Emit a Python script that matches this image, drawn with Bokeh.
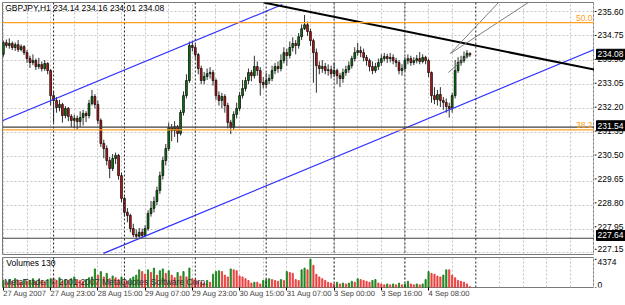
from bokeh.plotting import figure
from bokeh.models import (ColumnDataSource, FixedTicker, Span, Label, Range1d)
from bokeh.layouts import column, row
from bokeh.embed import file_html
from bokeh.resources import INLINE
from bokeh.core.properties import value

# ---------------- data ----------------
title_text = "GBPJPY,H1  234.14 234.16 234.01 234.08"
first_open = 234.10
closes = [234.51, 234.41, 234.48, 234.34, 234.44, 234.27, 234.37, 234.16, 233.95, 233.81,
          233.88, 233.67, 233.74, 233.60, 233.78, 233.53, 232.65, 232.48, 232.23, 232.34,
          231.95, 232.20, 231.92, 231.78, 231.85, 231.74, 231.88, 232.02, 231.95, 232.37,
          232.62, 232.34, 231.78, 230.97, 230.79, 230.37, 230.09, 230.44, 230.55, 229.84,
          229.04, 228.55, 228.44, 227.98, 227.77, 227.71, 227.85, 227.74, 227.98, 228.51,
          228.69, 228.93, 229.32, 229.84, 230.37, 230.79, 231.53, 231.42, 231.56, 231.32,
          232.06, 232.65, 233.18, 234.41, 234.34, 234.09, 233.60, 233.18, 233.32, 233.42,
          233.46, 233.18, 232.65, 232.48, 232.62, 232.30, 231.71, 231.53, 231.99, 232.20,
          232.65, 232.90, 233.18, 233.46, 233.35, 233.67, 233.53, 233.11, 233.04, 233.18,
          233.25, 233.53, 233.67, 233.60, 233.88, 234.16, 234.06, 234.34, 234.48, 234.41,
          234.72, 235.00, 235.14, 234.90, 234.58, 234.16, 233.70, 233.60, 233.67, 233.53,
          233.56, 233.42, 233.53, 233.35, 233.25, 233.46, 233.56, 233.70, 233.95, 234.16,
          234.23, 234.16, 233.99, 233.88, 233.67, 233.53, 233.67, 233.81, 233.95, 234.02,
          233.95, 233.99, 233.88, 233.81, 233.53, 233.60, 233.88, 233.95, 233.81, 233.88,
          233.95, 233.85, 233.99, 233.88, 233.46, 232.65, 232.51, 232.69, 232.48, 232.41,
          232.27, 232.20, 232.65, 233.53, 233.81, 233.88, 234.02, 234.14, 234.08]
highs = [234.58, 234.62, 234.66, 234.55, 234.52, 234.60, 234.45, 234.42, 234.25, 234.05,
         234.10, 233.95, 233.98, 233.85, 233.90, 233.82, 233.58, 232.80, 232.60, 232.50,
         232.40, 232.28, 232.25, 232.00, 231.98, 231.95, 232.10, 232.15, 232.10, 232.50,
         232.85, 232.70, 232.48, 231.85, 231.10, 230.90, 230.50, 230.60, 230.65, 230.60,
         229.95, 229.10, 228.70, 228.50, 228.15, 227.95, 228.00, 227.98, 228.10, 228.62,
         228.95, 229.10, 229.45, 229.98, 230.50, 230.95, 231.70, 231.65, 231.75, 231.62,
         232.15, 232.80, 233.40, 234.55, 234.58, 234.45, 234.15, 233.70, 233.48, 233.60,
         233.65, 233.55, 233.25, 232.80, 232.75, 232.70, 232.40, 231.80, 232.10, 232.40,
         232.78, 233.20, 233.30, 233.60, 233.55, 234.05, 233.85, 233.65, 233.30, 233.45,
         233.40, 233.70, 233.80, 233.85, 234.10, 234.35, 234.30, 234.55, 234.70, 234.60,
         234.85, 235.15, 235.48, 235.25, 235.00, 234.65, 234.30, 233.85, 233.90, 233.80,
         233.75, 233.70, 233.80, 233.60, 233.45, 233.60, 233.70, 233.85, 234.05, 234.35,
         234.50, 234.38, 234.30, 234.08, 233.95, 233.85, 233.80, 233.95, 234.10, 234.15,
         234.12, 234.15, 234.10, 233.98, 233.90, 233.75, 234.00, 234.10, 234.05, 234.00,
         234.08, 234.18, 234.10, 234.05, 233.95, 233.50, 232.95, 232.85, 232.95, 232.60,
         232.55, 232.40, 232.75, 233.90, 234.00, 234.05, 234.20, 234.25, 234.16]
lows = [234.02, 234.33, 234.30, 234.25, 234.22, 234.18, 234.20, 234.08, 233.80, 233.62,
        233.72, 233.55, 233.58, 233.50, 233.52, 233.40, 232.30, 231.70, 232.05, 232.10,
        231.70, 231.85, 231.75, 231.55, 231.50, 231.45, 231.55, 231.60, 231.72, 231.85,
        232.30, 232.20, 231.65, 230.85, 230.45, 230.20, 229.75, 230.00, 230.25, 229.70,
        228.90, 228.40, 228.20, 227.85, 227.68, 227.64, 227.66, 227.68, 227.70, 227.90,
        228.40, 228.55, 228.80, 229.20, 229.70, 230.20, 230.70, 231.05, 231.20, 231.00,
        231.25, 231.95, 232.55, 233.10, 234.20, 233.95, 233.40, 233.05, 233.05, 233.20,
        233.25, 233.00, 232.50, 232.30, 232.20, 232.05, 231.50, 231.30, 231.45, 231.85,
        232.10, 232.55, 232.80, 233.05, 233.15, 233.25, 233.35, 232.65, 232.90, 232.95,
        233.05, 233.15, 233.40, 233.45, 233.50, 233.78, 233.70, 233.95, 234.20, 234.10,
        234.30, 234.60, 234.95, 234.75, 234.40, 233.10, 232.75, 233.40, 233.45, 233.40,
        233.35, 233.25, 233.30, 233.05, 232.95, 233.10, 233.35, 233.45, 233.60, 233.85,
        234.05, 234.00, 233.85, 233.70, 233.50, 233.40, 233.45, 233.55, 233.70, 233.85,
        233.80, 233.82, 233.75, 233.65, 233.40, 233.35, 233.50, 233.75, 233.70, 233.72,
        233.78, 233.75, 233.78, 233.75, 233.30, 232.40, 232.35, 232.30, 232.25, 232.15,
        232.05, 231.88, 232.05, 232.55, 233.45, 233.70, 233.80, 233.95, 234.01]
volumes = [1100, 820, 1230, 960, 1370, 1100, 820, 1230, 960, 1100,
           1370, 960, 1230, 1100, 820, 1230, 1370, 1230, 1100, 1510,
           960, 1230, 1100, 1370, 1640, 1230, 1100, 960, 1230, 1510,
           1640, 2880, 1920, 2470, 1640, 2190, 1370, 1780, 1510, 1230,
           1640, 1100, 960, 1370, 1640, 1920, 2740, 2470, 2060, 2740,
           2330, 3010, 1920, 2600, 2880, 2190, 2600, 1920, 1510, 2330,
           1780, 2470, 1640, 3010, 1370, 1230, 960, 820, 690, 1100,
           820, 2060, 2470, 2600, 2470, 1920, 1640, 2880, 2740, 2600,
           1780, 1640, 1370, 1100, 690, 820, 820, 550, 1100, 1230,
           1370, 1230, 1100, 960, 1230, 1100, 2470, 2330, 2190, 1230,
           1100, 2740, 3010, 2740, 4374, 3430, 2060, 1640, 1370, 1100,
           820, 690, 550, 820, 550, 690, 550, 690, 960, 820,
           1370, 1230, 1100, 960, 820, 1100, 1230, 690, 550, 410,
           550, 410, 550, 410, 690, 410, 550, 960, 550, 410,
           550, 410, 550, 1230, 2470, 2190, 2060, 1780, 1640, 1920,
           2740, 2740, 1920, 1510, 1100, 960, 820, 550, 130]

price_ticks = [235.60, 234.75, 233.90, 233.05, 232.20, 231.35, 230.50, 229.65, 228.80, 227.95, 227.15]
time_ticks = [0, 16, 32, 48, 64, 80, 96, 112, 128, 144]
time_labels = ["27 Aug 2007", "27 Aug 23:00", "28 Aug 15:00", "29 Aug 07:00", "29 Aug 23:00",
               "30 Aug 15:00", "31 Aug 07:00", "3 Sep 00:00", "3 Sep 16:00", "4 Sep 08:00"]
grid_bars = [0, 8, 16, 24, 32, 40, 48, 56, 64, 72, 80, 88, 96, 104, 112, 120, 128, 136,
             144, 152, 168, 176, 184, 192, 200]
day_separators = [17, 41, 65, 89, 112, 136, 160]
volume_ticks = [4374, 0]

level_lines = [231.54, 227.64]           # horizontal lines (black)
fibo_levels = [235.21, 231.45]           # fibonacci levels (orange)
fibo_names = ["50.0", "38.2"]
price_boxes = [234.08, 231.54, 227.64]   # marked prices on the scale

channel_upper = ([-0.98, 94.5], [231.74, 235.85])
channel_lower = ([33.9, 200.2], [227.11, 234.27])
resistance = ([88.1, 200.2], [235.92, 233.56])
fan_a = ([151.4, 167.7], [234.13, 235.92])
fan_b = ([151.4, 177.8], [234.13, 235.92])
fan_c = ([150.7, 158.1], [233.46, 234.13])

# ---------------- styling ----------------
FONT = "Liberation Sans"
FS = "8.5px"
GREEN = "#0b7a0b"
RED = "#c41616"
PX_PER_PRICE = 252 / (235.92 - 227.07)

n = len(closes)
idx = list(range(n))
opens = [first_open] + closes[:-1]
tops = [max(o, c) for o, c in zip(opens, closes)]
bots = [min(o, c) for o, c in zip(opens, closes)]
bcol = [GREEN if c >= o else RED for o, c in zip(opens, closes)]

xr = Range1d(-0.3, 200.2)
yr = Range1d(227.07, 235.92)

# ---------------- price panel ----------------
p = figure(width=594, height=257, output_backend="svg", toolbar_location=None,
           x_range=xr, y_range=yr, x_axis_location=None, y_axis_location=None,
           min_border_left=2, min_border_right=0, min_border_top=2, min_border_bottom=3)
p.outline_line_color = "#7a7a7a"
p.background_fill_color = "white"
p.border_fill_color = "white"
p.ygrid[0].ticker = FixedTicker(ticks=price_ticks)
p.xgrid[0].ticker = FixedTicker(ticks=grid_bars)
for g in (p.xgrid[0], p.ygrid[0]):
    g.grid_line_color = "#c4c4c4"
    g.grid_line_dash = "2 2"

for d in day_separators:
    p.add_layout(Span(location=d, dimension="height", line_color="#202020",
                      line_dash="2 2", line_width=1))
for lv in level_lines:
    p.add_layout(Span(location=lv, dimension="width", line_color="#404040", line_width=1.2))
for lv in fibo_levels:
    p.add_layout(Span(location=lv, dimension="width", line_color="#ffa020", line_width=1.2))

src = ColumnDataSource(dict(x=idx, o=opens, h=highs, l=lows, c=closes,
                            top=tops, bot=bots, col=bcol))
p.segment(x0="x", y0="l", x1="x", y1="h", source=src, line_color="#303030", line_width=1)
p.vbar(x="x", width=0.62, top="top", bottom="bot", source=src,
       fill_color="col", line_color="black", line_width=0.7)

p.line(*channel_upper, line_color="#3030ff", line_width=1.2)
p.line(*channel_lower, line_color="#3030ff", line_width=1.2)
p.line(*resistance, line_color="black", line_width=2)
for f in (fan_a, fan_b, fan_c):
    p.line(*f, line_color="#707070", line_width=0.9)

p.add_layout(Label(x=0.6, y=235.885, text=title_text, text_font=FONT, text_font_size=FS,
                   text_color="black", text_baseline="top", text_align="left"))
for lv, nm in zip(fibo_levels, fibo_names):
    p.add_layout(Label(x=200.2, y=lv + 0.05, x_offset=-2, text=nm, text_font=FONT,
                       text_font_size=FS, text_color="#ffa020", text_baseline="bottom",
                       text_align="right"))

# ---------------- price scale (right) ----------------
# same price-per-pixel as the panel, frame 2..257 px
sy = Range1d(235.92 - 255 / PX_PER_PRICE, 235.92)
sp = figure(width=31, height=257, output_backend="svg", toolbar_location=None,
            x_range=Range1d(0, 31), y_range=sy, x_axis_location=None, y_axis_location=None,
            min_border_left=0, min_border_right=0, min_border_top=2, min_border_bottom=0)
sp.outline_line_color = None
sp.grid.visible = False
sp.border_fill_color = "white"
ssrc = ColumnDataSource(dict(y=price_ticks, t=[f"{v:.2f}" for v in price_ticks]))
sp.segment(x0=0, y0="y", x1=2, y1="y", source=ssrc, line_color="black", line_width=1)
sp.text(x=3, y="y", text="t", source=ssrc, text_font=value(FONT), text_font_size=FS,
        text_color="black", text_baseline="middle", text_align="left")
bsrc = ColumnDataSource(dict(y=price_boxes, t=[f"{v:.2f}" for v in price_boxes]))
sp.rect(x=16.5, y="y", width=29, height=10, height_units="screen", source=bsrc,
        fill_color="black", line_color="black")
sp.text(x=3, y="y", text="t", source=bsrc, text_font=value(FONT), text_font_size=FS,
        text_color="white", text_baseline="middle", text_align="left")

# ---------------- volume panel ----------------
vyr = Range1d(0, 4650)
vcol = [GREEN] + [GREEN if volumes[i] > volumes[i - 1] else "#e83030" for i in range(1, n)]
v = figure(width=594, height=48, output_backend="svg", toolbar_location=None,
           x_range=xr, y_range=vyr, y_axis_location=None,
           min_border_left=2, min_border_right=0, min_border_top=0, min_border_bottom=15)
v.outline_line_color = "#7a7a7a"
v.border_fill_color = "white"
vx = v.xaxis[0]
vx.ticker = FixedTicker(ticks=time_ticks)
vx.major_label_overrides = {t: s for t, s in zip(time_ticks, time_labels)}
vx.major_label_orientation = -0.0005     # labels start at their tick mark
vx.major_label_text_font = FONT
vx.major_label_text_font_size = "7.6px"
vx.major_tick_out = 3
vx.major_tick_in = 0
vx.minor_tick_out = 0
vx.minor_tick_in = 0
vx.major_label_standoff = 3
vx.axis_line_color = None
v.ygrid[0].visible = False
v.xgrid[0].ticker = FixedTicker(ticks=grid_bars)
v.xgrid[0].grid_line_color = "#c4c4c4"
v.xgrid[0].grid_line_dash = "2 2"
for d in day_separators:
    v.add_layout(Span(location=d, dimension="height", line_color="#202020",
                      line_dash="2 2", line_width=1))
vsrc = ColumnDataSource(dict(x=idx, vol=volumes, col=vcol))
v.vbar(x="x", width=0.4, top="vol", bottom=0, source=vsrc, fill_color="col",
       line_color="col", line_alpha=0.8, fill_alpha=0.8)
v.add_layout(Label(x=1.0, y=4600, text=f"Volumes {volumes[-1]}", text_font=FONT,
                   text_font_size=FS, text_color="black", text_baseline="top"))
v.add_layout(Label(x=0.3, y=60, text="MetaTrader © 2001-2007 MetaQuotes Software Corp.",
                   text_font=FONT, text_font_size=FS, text_color="#303030",
                   text_baseline="bottom"))

# ---------------- volume scale (right) ----------------
sv = figure(width=31, height=48, output_backend="svg", toolbar_location=None,
            x_range=Range1d(0, 31), y_range=vyr, x_axis_location=None, y_axis_location=None,
            min_border_left=0, min_border_right=0, min_border_top=0, min_border_bottom=15)
sv.outline_line_color = None
sv.grid.visible = False
sv.border_fill_color = "white"
vtsrc = ColumnDataSource(dict(y=volume_ticks, t=[str(t) for t in volume_ticks],
                              b=["top", "bottom"]))
sv.segment(x0=0, y0="y", x1=2, y1="y", source=vtsrc, line_color="black", line_width=1)
sv.text(x=3, y="y", text="t", source=vtsrc, text_font=value(FONT), text_font_size=FS,
        text_color="black", text_baseline="b", text_align="left")

layout = column(row(p, sp, spacing=0), row(v, sv, spacing=0), spacing=0)
open("out.html", "w").write(file_html(layout, INLINE))
